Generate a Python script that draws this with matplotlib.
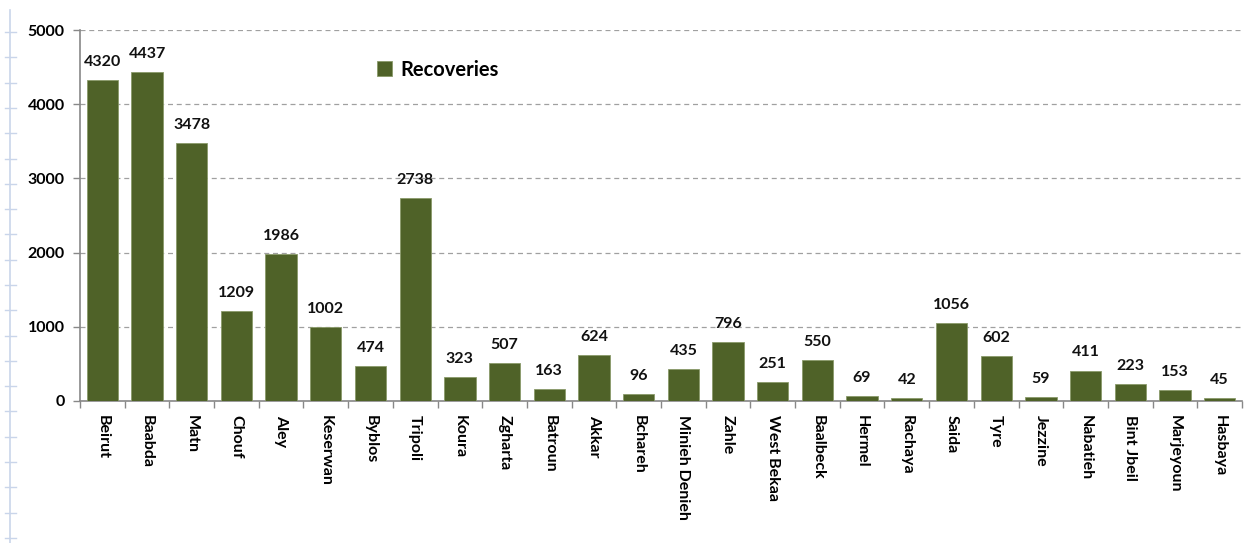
import numpy as np
import matplotlib.pyplot as plt
from matplotlib.lines import Line2D

districts = ["Beirut", "Baabda", "Matn", "Chouf", "Aley", "Keserwan", "Byblos",
             "Tripoli", "Koura", "Zgharta", "Batroun", "Akkar", "Bchareh",
             "Minieh Denieh", "Zahle", "West Bekaa", "Baalbeck", "Hermel",
             "Rachaya", "Saida", "Tyre", "Jezzine", "Nabatieh", "Bint Jbeil",
             "Marjeyoun", "Hasbaya"]
recoveries = [4320, 4437, 3478, 1209, 1986, 1002, 474, 2738, 323, 507, 163,
              624, 96, 435, 796, 251, 550, 69, 42, 1056, 602, 59, 411, 223,
              153, 45]
yticks = [0, 1000, 2000, 3000, 4000, 5000]

plt.rcParams['font.family'] = ['Lato', 'DejaVu Sans']

W, H = 1244, 543
fig = plt.figure(figsize=(W / 100, H / 100), dpi=100)
ax = fig.add_axes([80 / W, 1 - 401 / H, (1242 - 80) / W, (401 - 30) / H])

x = np.arange(len(districts))
bars = ax.bar(x, recoveries, width=0.7, color='#4f6228', edgecolor='#8a9a6a',
              linewidth=0.6, label='Recoveries', zorder=3)

for xi, v in zip(x, recoveries):
    ax.annotate(str(v), (xi, v), xytext=(0, 8), textcoords='offset points',
                ha='center', va='bottom', fontsize=11.5, fontweight='bold',
                color='#111111')

ax.set_xlim(-0.5, len(districts) - 0.5)
ax.set_ylim(0, 5000)
ax.set_yticks(yticks)
ax.set_yticklabels([str(t) for t in yticks], fontsize=11.5, fontweight='bold')
ax.yaxis.grid(True, linestyle=(0, (4, 3)), color='#a0a0a0', linewidth=0.9, zorder=0)

# category labels between boundary ticks
ax.set_xticks(x)
ax.set_xticklabels(districts, rotation=270, fontsize=11.5, fontweight='bold',
                   va='top', ha='center')
ax.tick_params(axis='x', length=0, pad=10)
ax.set_xticks(np.arange(len(districts) + 1) - 0.5, minor=True)
ax.tick_params(axis='x', which='minor', length=5, color='#888888', width=1)
ax.tick_params(axis='y', length=5, color='#888888', width=1, pad=6)

for s in ['top', 'right']:
    ax.spines[s].set_visible(False)
for s in ['left', 'bottom']:
    ax.spines[s].set_color('#888888')
    ax.spines[s].set_linewidth(1.2)

ax.legend(loc='center left', bbox_to_anchor=(0.24, 0.893), frameon=False,
          handlelength=0.75, handleheight=0.75, handletextpad=0.4,
          prop={'weight': 'bold', 'size': 14.5})

# faint ruler at the left edge of the page
fig.add_artist(Line2D([10 / W, 10 / W], [0, 1 - 10 / H], color='#c9d5ea', lw=1.2))
for yy in np.arange(32, H, 25.3):
    fig.add_artist(Line2D([5 / W, 16 / W], [1 - yy / H, 1 - yy / H],
                          color='#c9d5ea', lw=1))

fig.savefig('out.png', dpi=100)
